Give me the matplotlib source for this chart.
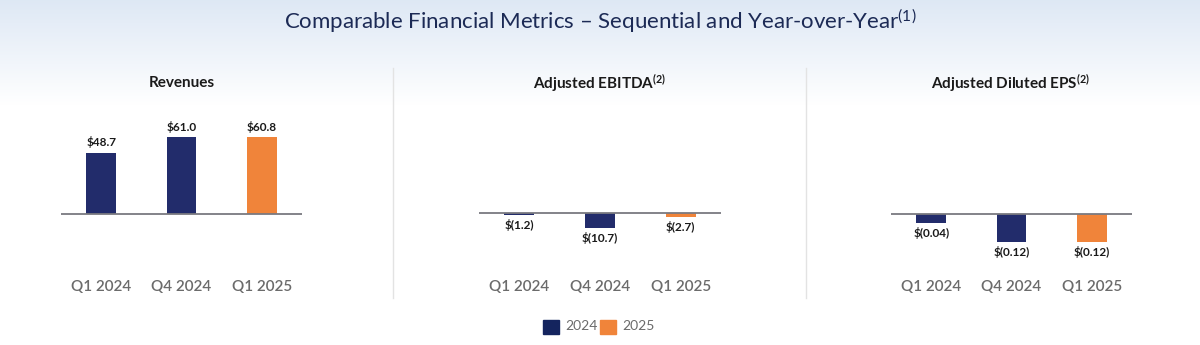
import numpy as np
import matplotlib.pyplot as plt
from matplotlib.patches import Rectangle

# Data
quarters = ['Q1 2024', 'Q4 2024', 'Q1 2025']
bar_years = ['2024', '2024', '2025']
revenues = [48.7, 61.0, 60.8]
ebitda = [-1.2, -10.7, -2.7]
eps = [-0.04, -0.12, -0.12]
rev_labels = ['$48.7', '$61.0', '$60.8']
ebitda_labels = ['$(1.2)', '$(10.7)', '$(2.7)']
eps_labels = ['$(0.04)', '$(0.12)', '$(0.12)']

COL_NAVY = '#222c6b'
COL_ORANGE = '#f0843a'
COL_TITLE = '#1c2a55'
COL_GRAY = '#6b6b6b'
year_colors = {'2024': COL_NAVY, '2025': COL_ORANGE}

plt.rcParams['font.family'] = ['Lato', 'DejaVu Sans']
plt.rcParams['mathtext.fontset'] = 'custom'
plt.rcParams['mathtext.rm'] = 'Lato'
plt.rcParams['mathtext.bf'] = 'Lato:bold'
plt.rcParams['mathtext.default'] = 'regular'

W, H = 1200, 345
fig = plt.figure(figsize=(12, 3.45), dpi=100)

# background gradient
bg = fig.add_axes([0, 0, 1, 1], zorder=-10)
grad = np.ones((H, 1, 3))
top = np.array([0.87, 0.91, 0.96])
for i in range(H):
    t = min(i / 105.0, 1.0)
    grad[i, 0, :] = top * (1 - t) + np.array([1, 1, 1]) * t
bg.imshow(grad, aspect='auto', extent=[0, 1, 0, 1])
bg.axis('off')


def px_axes(x0, x1, y0, y1):
    # pixel box (top-left origin) -> figure fraction
    return [x0 / W, 1 - y1 / H, (x1 - x0) / W, (y1 - y0) / H]


fig.text(0.5, 1 - 21 / H, 'Comparable Financial Metrics \u2013 Sequential and Year-over-Year$^{(1)}$',
         ha='center', va='center', fontsize=16, color=COL_TITLE)

panels = [
    ('Revenues', revenues, rev_labels, 61, 302, 214, 1.26, 182),
    ('Adjusted EBITDA$^{(2)}$', ebitda, ebitda_labels, 479, 721, 213, 1.40, 600),
    ('Adjusted Diluted EPS$^{(2)}$', eps, eps_labels, 891, 1132, 214, 233.0, 1011),
]

for title, vals, labels, x0, x1, base, scale, tx in panels:
    ax = fig.add_axes(px_axes(x0, x1, 100, 300))
    ax.set_xlim(-0.5, 2.5)
    ax.set_ylim(-(300 - base) / scale, (base - 100) / scale)
    ax.axis('off')
    xs = np.arange(len(quarters))
    cols = [year_colors[y] for y in bar_years]
    ax.bar(xs, vals, width=0.373, color=cols, zorder=2)
    ax.axhline(0, color='#7a7a80', lw=1.3, zorder=3)
    for x, v, lab in zip(xs, vals, labels):
        if v >= 0:
            ax.annotate(lab, (x, v), xytext=(0, 3), textcoords='offset points',
                        ha='center', va='bottom', fontsize=8.5, fontweight='bold', color='#1a1a1a')
        else:
            ax.annotate(lab, (x, v), xytext=(0, -3), textcoords='offset points',
                        ha='center', va='top', fontsize=8.5, fontweight='bold', color='#1a1a1a')
    for x, q in zip(xs, quarters):
        ax.text(x, 0.065, q, transform=ax.get_xaxis_transform(), ha='center', va='center',
                fontsize=11, fontweight='semibold', color=COL_GRAY)
    fig.text(tx / W, 1 - 83 / H, title, ha='center', va='center', fontsize=11,
             fontweight='bold', color='#1a1a1a')

# separators
for sx in [393, 806]:
    fig.add_artist(plt.Line2D([sx / W, sx / W], [1 - 68 / H, 1 - 298 / H], color='#e3e3e3', lw=1))

# legend
for lx, yr in [(543, '2024'), (600, '2025')]:
    col = '#14245e' if yr == '2024' else COL_ORANGE
    fig.add_artist(Rectangle((lx / W, 1 - 334 / H), 16 / W, 14 / H, color=col, transform=fig.transFigure))
    fig.text((lx + 22) / W, 1 - 326 / H, yr, ha='left', va='center', fontsize=10, color=COL_GRAY)

fig.savefig('out.png', dpi=100)
